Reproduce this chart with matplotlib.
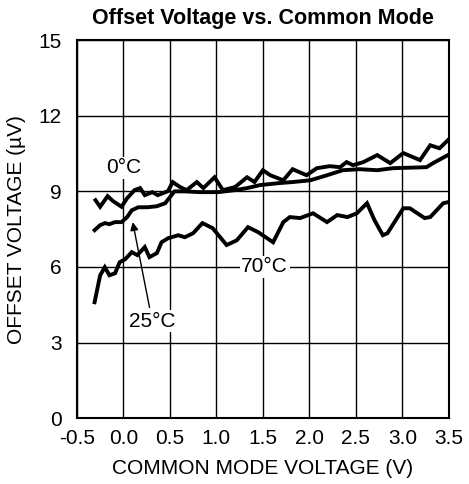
import matplotlib
matplotlib.use('Agg')
import matplotlib.pyplot as plt

plt.rcParams['font.family'] = ['Liberation Sans', 'DejaVu Sans']

# 0°C curve
x0 = [-0.30, -0.25, -0.17, -0.11, -0.02, 0.04, 0.12, 0.18, 0.23, 0.31, 0.37, 0.48, 0.53, 0.61,
      0.68, 0.79, 0.86, 0.98, 1.07, 1.20, 1.33, 1.41, 1.50, 1.58, 1.72, 1.82, 1.97, 2.08, 2.22,
      2.33, 2.40, 2.47, 2.58, 2.73, 2.87, 3.01, 3.19, 3.30, 3.40, 3.49]
y0 = [8.65, 8.39, 8.81, 8.61, 8.39, 8.73, 9.05, 9.13, 8.85, 8.97, 8.85, 9.01, 9.37, 9.17,
      9.05, 9.37, 9.13, 9.56, 9.05, 9.17, 9.56, 9.37, 9.84, 9.64, 9.44, 9.88, 9.64, 9.92, 10.00,
      9.96, 10.16, 10.04, 10.16, 10.44, 10.12, 10.52, 10.24, 10.83, 10.71, 11.03]

# 25°C curve
x25 = [-0.31, -0.25, -0.20, -0.15, -0.09, -0.02, 0.04, 0.09, 0.16, 0.26, 0.36, 0.45, 0.50, 0.55,
       0.66, 0.82, 1.02, 1.20, 1.33, 1.47, 1.68, 1.82, 2.01, 2.19, 2.36, 2.54, 2.73, 2.90, 3.26,
       3.33, 3.49]
y25 = [7.46, 7.66, 7.74, 7.70, 7.78, 7.78, 7.98, 8.25, 8.37, 8.37, 8.41, 8.53, 8.77, 9.00,
       9.00, 8.97, 8.97, 9.05, 9.13, 9.25, 9.33, 9.37, 9.44, 9.64, 9.84, 9.88, 9.84, 9.92, 9.96,
       10.12, 10.44]

# 70°C curve
x70 = [-0.31, -0.25, -0.20, -0.15, -0.09, -0.04, 0.02, 0.09, 0.15, 0.23, 0.28, 0.36, 0.41, 0.48,
       0.59, 0.66, 0.75, 0.85, 0.96, 1.11, 1.22, 1.34, 1.45, 1.61, 1.72, 1.79, 1.90, 2.04, 2.19,
       2.30, 2.41, 2.51, 2.62, 2.70, 2.79, 2.84, 3.01, 3.08, 3.24, 3.30, 3.44, 3.49]
y70 = [4.60, 5.67, 5.99, 5.67, 5.75, 6.19, 6.31, 6.59, 6.47, 6.79, 6.39, 6.55, 6.98, 7.14,
       7.26, 7.18, 7.34, 7.74, 7.54, 6.87, 7.06, 7.58, 7.38, 6.98, 7.78, 7.98, 7.94, 8.13, 7.78,
       8.06, 7.98, 8.13, 8.53, 7.86, 7.26, 7.34, 8.33, 8.33, 7.94, 7.98, 8.53, 8.57]

xticks = [-0.5, 0.0, 0.5, 1.0, 1.5, 2.0, 2.5, 3.0, 3.5]
yticks = [0, 3, 6, 9, 12, 15]

fig = plt.figure(figsize=(4.69, 4.84), dpi=100)
ax = fig.add_axes([0.164, 0.136, 0.793, 0.781])

for xs, ys in [(x0, y0), (x25, y25), (x70, y70)]:
    ax.plot(xs, ys, color='black', lw=2.8, solid_joinstyle='miter', zorder=3)

ax.set_xlim(-0.5, 3.5)
ax.set_ylim(0, 15)
ax.set_xticks(xticks)
ax.set_xticklabels(['%.1f' % v for v in xticks])
ax.set_yticks(yticks)
ax.grid(True, color='black', lw=1.0)
ax.tick_params(length=0, labelsize=15)
ax.tick_params(axis='x', pad=8)
ax.tick_params(axis='y', pad=11)
for s in ax.spines.values():
    s.set_linewidth(1.5)

ax.set_xlabel('COMMON MODE VOLTAGE (V)', fontsize=15, labelpad=8)
ax.set_ylabel('OFFSET VOLTAGE (µV)', fontsize=15, labelpad=9)
ax.set_title('Offset Voltage vs. Common Mode', fontsize=15.5, fontweight='bold', pad=12)

ax.text(0.0, 9.94, '0°C', fontsize=15, ha='center', va='center', zorder=4,
        bbox=dict(facecolor='white', edgecolor='none', pad=1))
ax.text(1.52, 6.0, '70°C', fontsize=15, ha='center', va='center', zorder=4,
        bbox=dict(facecolor='white', edgecolor='none', pad=1))
ax.annotate('25°C', xy=(0.10, 7.78), xytext=(0.31, 3.85), fontsize=15,
            ha='center', va='center', zorder=4,
            bbox=dict(facecolor='white', edgecolor='none', pad=1),
            arrowprops=dict(arrowstyle='-|>', color='black', lw=1.0, shrinkA=2, shrinkB=0,
                            mutation_scale=12))

fig.savefig('out.png', dpi=100)
